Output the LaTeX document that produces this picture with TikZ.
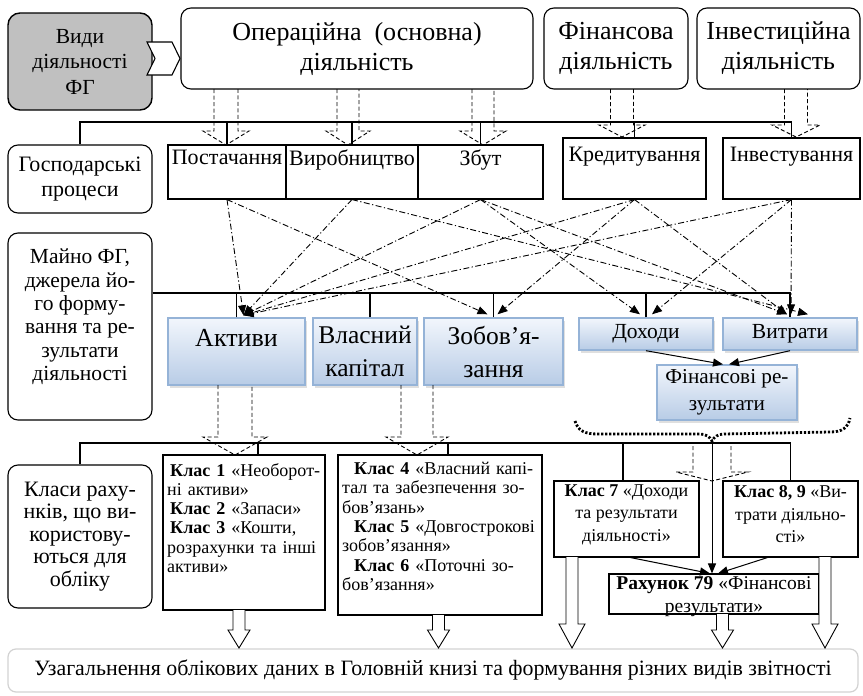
\documentclass[tikz,border=0pt]{standalone}
\usepackage{fontspec}
\setmainfont{Liberation Serif}
\usetikzlibrary{arrows.meta,shadows,calc}
\definecolor{bluebd}{RGB}{149,179,215}
\definecolor{bluetop}{RGB}{242,246,252}
\definecolor{bluebot}{RGB}{184,204,230}
\definecolor{grayfill}{RGB}{192,192,192}
\definecolor{botbd}{RGB}{210,210,210}
\newcommand{\fs}[2]{\fontsize{#1}{#2}\selectfont}
\newcommand{\jl}[2]{\leavevmode\hbox to #1{#2}}
\newcommand{\dArr}[6]{\draw[ddarr] ({#1-#5},#2) -- ({#1-#5},#3) -- ({#1-#6},#3) -- (#1,#4) -- ({#1+#6},#3) -- ({#1+#5},#3) -- ({#1+#5},#2);}
\newcommand{\hArr}[6]{\draw[hol] ({#1-#5},#2) -- ({#1-#5},#3) -- ({#1-#6},#3) -- (#1,#4) -- ({#1+#6},#3) -- ({#1+#5},#3) -- ({#1+#5},#2);}
\tikzset{
 rbox/.style={draw, line width=1.1pt, rounded corners=10pt, inner sep=0pt, align=center},
 pbox/.style={draw, line width=1.1pt, inner sep=0pt},
 bbox/.style={draw=bluebd, line width=1.4pt, top color=bluetop, bottom color=bluebot, drop shadow={shadow xshift=2pt, shadow yshift=-2.5pt, fill=black!25}, inner sep=0pt, align=center},
 ddarr/.style={dash pattern=on 4pt off 2.5pt, line width=0.9pt},
 dd/.style={dash pattern=on 6pt off 2.5pt on 1.2pt off 2.5pt, line width=0.9pt, -{Triangle[length=10pt,width=8pt]}},
 sarr/.style={line width=1pt, -{Triangle[length=10pt,width=8pt]}},
 hol/.style={draw, fill=white, line width=0.9pt},
 bus/.style={line width=1.1pt},
 txt/.style={inner sep=0pt, align=center},
 ttl/.style={font={\fs{26}{30}}},
 prc/.style={font={\fs{22}{25}}},
 cls/.style={font={\fs{18}{19.3}}},
}
\begin{document}
\begin{tikzpicture}[x=1pt,y=-1pt]
\useasboundingbox (0,0) rectangle (863,696);
% top row
\node[rbox, fill=grayfill, rounded corners=12pt, line width=1.4pt, minimum width=144pt, minimum height=97pt, font={\fs{21.5}{25.5}}] (vidy) at (80,61.5) {Види\\діяльності\\ФГ};
\draw[line width=1.1pt, fill=white] (147,42) -- (172,42) -- (180,58.5) -- (172,75) -- (147,75) -- (155,58.5) -- cycle;
\node[rbox, ttl, minimum width=352pt, minimum height=81pt] (oper) at (357,48.5) {Операційна\ \ (основна)\\діяльність};
\node[rbox, ttl, minimum width=144pt, minimum height=81pt] (fin) at (616,48.5) {Фінансова\\діяльність};
\node[rbox, ttl, minimum width=163pt, minimum height=81pt] (inv) at (778.5,48.5) {Інвестиційна\\діяльність};
% bus 1
\coordinate (b1) at (0,122);
\node[rbox, prc, minimum width=144pt, minimum height=68pt] (gosp) at (80,179) {Господарські\\процеси};
\node[pbox, minimum width=118pt, minimum height=54pt] (post) at (227,172) {};
\node[pbox, minimum width=132pt, minimum height=54pt] (vyr) at (352,172) {};
\node[pbox, minimum width=125pt, minimum height=54pt] (zbut) at (480.5,172) {};
\node[pbox, minimum width=143pt, minimum height=61pt] (kred) at (634.5,168.5) {};
\node[pbox, minimum width=137pt, minimum height=61pt] (invest) at (791.5,168.5) {};
\node[txt, prc, anchor=north] at ([yshift=-5pt]post.north) {Постачання};
\node[txt, prc, anchor=north] at ([yshift=-5pt]vyr.north) {Виробництво};
\node[txt, prc, anchor=north] at ([yshift=-5pt]zbut.north) {Збут};
\node[txt, prc, anchor=north] at ([yshift=-9pt]kred.north) {Кредитування};
\node[txt, prc, anchor=north] at ([yshift=-9pt]invest.north) {Інвестування};
\draw[bus] (gosp.north) |- (b1 -| invest.north) -- (invest.north);
\foreach \n in {post,vyr,zbut,kred} \draw[bus] (\n.north) -- (\n.north |- b1);
\dArr{226}{89}{131}{145}{12}{23}
\dArr{348}{89}{131}{145}{11}{22}
\dArr{483}{89}{131}{145}{11}{23}
\dArr{622}{89}{125}{137}{11.5}{23}
\dArr{796}{89}{125}{137}{11.5}{24}
% middle
\node[rbox, minimum width=144pt, minimum height=187pt] (mayno) at (80,326.5) {};
\node[txt, font={\fs{21.5}{23.4}}] at (80,317) {Майно ФГ,\\джерела йо-\\го форму-\\вання та ре-\\зультати\\діяльності};
\coordinate (b2) at (0,293);
\node[bbox, minimum width=137pt, minimum height=67pt] (aktyvy) at (236.5,351.5) {};
\node[bbox, font={\fs{25.5}{33}}, minimum width=104pt, minimum height=67pt] (vlasn) at (365,351.5) {Власний\\капітал};
\node[bbox, font={\fs{25.5}{33}}, minimum width=139pt, minimum height=67pt] (zobov) at (493.5,351.5) {Зобов’я-\\зання};
\node[txt, font={\fs{26}{30}}] at (236.5,338) {Активи};
\node[bbox, font={\fs{21.5}{26}}, minimum width=134pt, minimum height=32pt] (doh) at (646,334) {Доходи};
\node[bbox, font={\fs{21.5}{26}}, minimum width=134pt, minimum height=32pt] (vytr) at (790,334) {Витрати};
\node[bbox, font={\fs{21.2}{27}}, minimum width=140pt, minimum height=55pt] (finres) at (727,392.5) {Фінансові ре-\\зультати};
\draw[bus] (mayno.east |- b2) -- (b2 -| vytr.north) -- (vytr.north);
\draw[bus] (aktyvy.north) -- (aktyvy.north |- b2);
\draw[bus] ([xshift=5pt]vlasn.north) -- ([xshift=5pt]vlasn.north |- b2);
\draw[bus] (zobov.north) -- (zobov.north |- b2);
\draw[bus] (doh.north) -- (doh.north |- b2);
% dash-dot
\draw[dd] (post.south) -- ([xshift=7pt,yshift=2pt]aktyvy.north);
\draw[dd] (post.south) -- ([xshift=-6pt,yshift=3pt]zobov.north);
\draw[dd] (vyr.south) -- ([xshift=7pt,yshift=2pt]aktyvy.north);
\draw[dd] (vyr.south) -- ([xshift=18pt,yshift=3pt]vytr.north);
\draw[dd] (zbut.south) -- ([xshift=7pt,yshift=2pt]aktyvy.north);
\draw[dd] (zbut.south) -- ([xshift=-6pt,yshift=3pt]doh.north);
\draw[dd] (zbut.south) -- ([xshift=-3pt,yshift=3pt]vytr.north);
\draw[dd] (kred.south) -- ([xshift=7pt,yshift=2pt]aktyvy.north);
\draw[dd] (kred.south) -- ([xshift=4pt,yshift=3pt]zobov.north);
\draw[dd] (kred.south) -- ([xshift=-3pt,yshift=3pt]vytr.north);
\draw[dd] (invest.south) -- ([xshift=7pt,yshift=2pt]aktyvy.north);
\draw[dd] (invest.south) -- ([xshift=6pt,yshift=3pt]doh.north);
\draw[dd] (invest.south) -- ([xshift=1pt,yshift=3pt]vytr.north);
\draw[sarr] (doh.south) -- ([xshift=-4pt]finres.north);
\draw[sarr] (vytr.south) -- ([xshift=2pt]finres.north);
% brace
\draw[line width=2.8pt, dash pattern=on 2.2pt off 1.8pt] (575,421) .. controls (578,431) and (585,434) .. (598,434) -- (700,434) .. controls (706,434) and (710,437) .. (712,441) .. controls (714,437) and (718,434) .. (724,434) -- (830,432) .. controls (842,432) and (848,428) .. (850,418);
\coordinate (brt) at (712,441);
% bottom part
\node[rbox, font={\fs{22}{22.5}}, minimum width=144pt, minimum height=143pt] (klasy) at (80,536.5) {Класи раху-\\нків, що ви-\\користову-\\ються для\\обліку};
\node[pbox, minimum width=162pt, minimum height=155pt] (k1) at (244,532.5) {};
\node[pbox, minimum width=204pt, minimum height=160pt] (k4) at (440,535) {};
\node[pbox, minimum width=145pt, minimum height=76pt] (k7) at (626.5,519) {};
\node[pbox, minimum width=135pt, minimum height=76pt] (k89) at (790.5,519) {};
\node[pbox, minimum width=210pt, minimum height=40pt] (r79) at (714,594) {};
\coordinate (b3) at (0,443);
\draw[bus] (klasy.north) |- (b3 -| k89.north) -- (k89.north);
\draw[bus] ([xshift=14pt]k1.north) -- ([xshift=14pt]k1.north |- b3);
\draw[bus] ([xshift=8pt]k4.north) -- ([xshift=8pt]k4.north |- b3);
\draw[bus] ([xshift=-3.5pt]k7.north) -- ([xshift=-3.5pt]k7.north |- b3);
\draw[sarr] (brt) -- (brt |- r79.north);
\draw[sarr] ([xshift=4pt]k7.south) -- ([xshift=-4pt]r79.north);
\draw[sarr] ([xshift=-23pt]k89.south) -- ([xshift=4pt]r79.north);
\dArr{235}{385}{437}{455}{17}{32}
\dArr{417}{385}{437}{455}{16}{31}
\dArr{712}{446}{472}{481}{19}{36}
\node[txt, cls, anchor=north west, text width=155pt, align=left] at (167,463) {%
\jl{155pt}{\hspace{3pt}\textbf{Клас 1} «Необорот-}\\
ні активи»\\
\hspace{3pt}\textbf{Клас 2} «Запаси»\\
\jl{155pt}{\hspace{3pt}\textbf{Клас 3} «Кошти,}\\
\jl{155pt}{розрахунки та інші}\\
активи»};
\node[txt, cls, anchor=north west, text width=198pt, align=left] at (342,462) {%
\jl{198pt}{\hspace{12pt}\textbf{Клас 4} «Власний капі-}\\
\jl{198pt}{тал та забезпечення зо-}\\
бов’язань»\\
\jl{198pt}{\hspace{12pt}\textbf{Клас 5} «Довгострокові}\\
зобов’язання»\\
\jl{198pt}{\hspace{12pt}\textbf{Клас 6} «Поточні зо-}\\
бов’язання»};
\node[txt, font={\fs{18}{22.5}}] at (626.5,514.5) {\textbf{Клас 7} «Доходи\\та результати\\діяльності»};
\node[txt, font={\fs{18}{22.5}}] at (790.5,514.5) {\textbf{Клас 8, 9} «Ви-\\трати діяльно-\\сті»};
\node[txt, font={\fs{19.5}{23}}] at (714,596.5) {\textbf{Рахунок 79} «Фінансові\\результати»};
\node[draw=botbd, line width=1.2pt, rounded corners=8pt, minimum width=850pt, minimum height=43pt, inner sep=0pt, font={\fs{21.9}{24}}] (zag) at (433,670.5) {Узагальнення облікових даних в Головній книзі та формування різних видів звітності};
\hArr{239}{610}{630}{648}{6}{11}
\hArr{438.5}{615}{630}{648}{6}{11}
\hArr{572}{557}{624}{648}{6}{13}
\hArr{722.5}{614}{630}{648}{6}{11}
\hArr{825}{557}{624}{648}{6}{13}
\end{tikzpicture}
\end{document}
